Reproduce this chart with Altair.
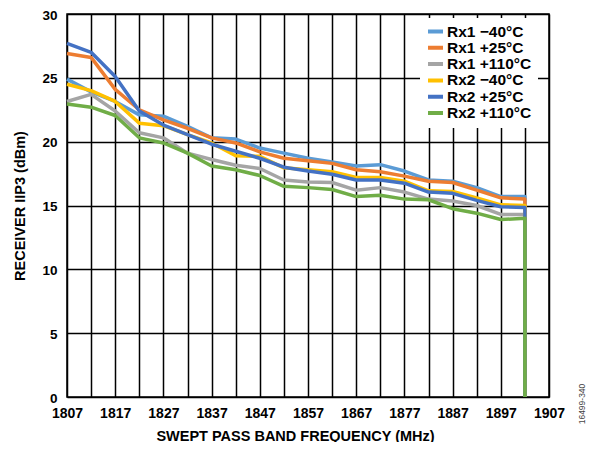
import altair as alt
import pandas as pd

freqs = [1807, 1812, 1817, 1822, 1827, 1832, 1837, 1842, 1847, 1852,
         1857, 1862, 1867, 1872, 1877, 1882, 1887, 1892, 1897, 1902]

series_names = ["Rx1 \u221240\u00b0C", "Rx1 +25\u00b0C", "Rx1 +110\u00b0C",
                "Rx2 \u221240\u00b0C", "Rx2 +25\u00b0C", "Rx2 +110\u00b0C"]
series_colors = ["#5B9BD5", "#ED7D31", "#A5A5A5", "#FFC000", "#4472C4", "#70AD47"]

rx1_m40 = [24.9, 23.9, 23.15, 22.1, 22.0, 21.2, 20.3, 20.2, 19.5, 19.1,
           18.7, 18.4, 18.1, 18.2, 17.7, 17.0, 16.9, 16.4, 15.7, 15.7]
rx1_p25 = [26.9, 26.6, 24.1, 22.5, 21.7, 21.05, 20.3, 19.9, 19.2, 18.7,
           18.5, 18.3, 17.8, 17.65, 17.3, 16.9, 16.8, 16.2, 15.6, 15.5]
rx1_p110 = [23.15, 23.7, 22.4, 20.7, 20.3, 19.1, 18.6, 18.15, 17.9, 17.0,
            16.85, 16.8, 16.2, 16.4, 16.05, 15.5, 15.35, 15.0, 14.3, 14.3]
rx2_m40 = [24.5, 24.0, 23.15, 21.45, 21.25, 20.55, 19.9, 18.9, 18.85, 17.95,
           17.8, 17.65, 17.2, 17.2, 16.9, 16.15, 16.1, 15.6, 15.05, 15.0]
rx2_p25 = [27.7, 27.0, 25.1, 22.4, 21.3, 20.55, 19.8, 19.25, 18.7, 18.0,
           17.7, 17.45, 17.0, 17.0, 16.75, 16.05, 15.95, 15.4, 14.9, 14.85]
rx2_p110 = [22.95, 22.7, 22.05, 20.3, 19.9, 19.1, 18.1, 17.8, 17.35, 16.5,
            16.4, 16.25, 15.7, 15.8, 15.5, 15.45, 14.75, 14.4, 13.9, 14.0]

# each trace ends with a vertical drop to 0 at the last frequency
end_freq = 1902
end_value = 0

all_series = [rx1_m40, rx1_p25, rx1_p110, rx2_m40, rx2_p25, rx2_p110]

rows = []
for name, vals in zip(series_names, all_series):
    for i, (f, v) in enumerate(zip(freqs, vals)):
        rows.append({"series": name, "freq": f, "iip3": v, "idx": i})
    rows.append({"series": name, "freq": end_freq, "iip3": end_value, "idx": len(vals)})
df = pd.DataFrame(rows)

font = "Liberation Sans"
x_ticks = list(range(1807, 1908, 5))
y_ticks = [0, 5, 10, 15, 20, 25, 30]

lines = alt.Chart(df).mark_line(strokeWidth=3.5, strokeJoin="round").encode(
    x=alt.X("freq:Q",
            scale=alt.Scale(domain=[1807, 1907], nice=False, zero=False),
            axis=alt.Axis(values=x_ticks, format="d",
                          labelExpr="(datum.value - 1807) % 10 == 0 ? datum.label : ''",
                          title="SWEPT PASS BAND FREQUENCY (MHz)",
                          ticks=False, labelPadding=9, titlePadding=9,
                          titleX=228,
                          grid=True, gridColor="#000000", gridWidth=1.5,
                          domain=False, labelFlush=False)),
    y=alt.Y("iip3:Q",
            scale=alt.Scale(domain=[0, 30], nice=False),
            axis=alt.Axis(values=y_ticks, title="RECEIVER IIP3 (dBm)",
                          ticks=False, labelPadding=10, titlePadding=14,
                          labelOffset=1, labelFlush=False, labelFontSize=13.5,
                          grid=True, gridColor="#000000", gridWidth=1.5,
                          domain=False)),
    color=alt.Color("series:N",
                    scale=alt.Scale(domain=series_names, range=series_colors),
                    title=None,
                    legend=alt.Legend(orient="none", legendX=353, legendY=4,
                                      fillColor="white", padding=6,
                                      symbolType="stroke", symbolSize=225,
                                      symbolStrokeWidth=4, labelFontSize=15.5,
                                      labelFont=font, labelFontWeight="bold",
                                      labelColor="black", rowPadding=0.3,
                                      clipHeight=15,
                                      symbolOffset=0, labelOffset=2)),
    order="idx:Q",
)

note = alt.Chart(pd.DataFrame({"t": ["16499-340"]})).mark_text(
    angle=270, fontSize=8.5, font=font, color="#444", align="center", baseline="middle"
).encode(x=alt.value(515), y=alt.value(390), text="t:N")

chart = alt.layer(lines, note).properties(
    width=482, height=383,
    padding={"left": 59, "top": 6, "right": 38, "bottom": 45},
    autosize=alt.AutoSizeParams(type="none"),
).configure_view(
    stroke="black", strokeWidth=1.5
).configure_axis(
    labelFont=font, labelFontSize=14, labelFontWeight="bold", labelColor="black",
    titleFont=font, titleFontSize=14.5, titleFontWeight="bold", titleColor="black",
)

chart.save("out.html", embed_options={"renderer": "svg", "actions": False})
